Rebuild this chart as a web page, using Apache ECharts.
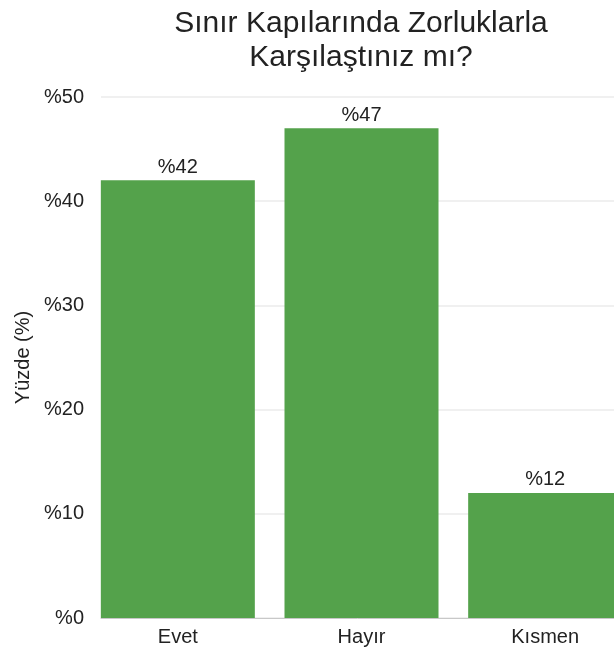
<!DOCTYPE html>
<html>
<head>
<meta charset="utf-8">
<script src="https://cdn.jsdelivr.net/npm/echarts@6/dist/echarts.min.js"></script>
<style>
  html, body { margin: 0; padding: 0; background: #fff; }
  #chart { width: 614px; height: 652px; }
</style>
</head>
<body>
<div id="chart"></div>
<script>
var categories = ['Evet', 'Hayır', 'Kısmen'];
var values = [42, 47, 12];
var yTicks = { min: 0, max: 50, interval: 10 };

var font = '"Liberation Sans", Arial, sans-serif';

var chart = echarts.init(document.getElementById('chart'));

chart.setOption({
    backgroundColor: '#ffffff',
    animation: false,
    title: {
        text: 'Sınır Kapılarında Zorluklarla\nKarşılaştınız mı?',
        left: 356,
        top: 2,
        textAlign: 'center',
        textStyle: {
            fontFamily: font,
            fontSize: 30,
            fontWeight: 'normal',
            color: '#222',
            lineHeight: 34
        }
    },
    grid: [
        // bars (last category runs past the right edge)
        { left: 86, width: 551, top: 97, bottom: 34, outerBoundsMode: 'none', containLabel: false },
        // gridlines and y labels
        { left: 101, right: 0, top: 97, bottom: 34, outerBoundsMode: 'none' }
    ],
    xAxis: [
        {
            type: 'category',
            gridIndex: 0,
            data: categories,
            axisLine: { show: false },
            axisTick: { show: false },
            axisLabel: { fontFamily: font, fontSize: 20, color: '#222', margin: 9 }
        },
        {
            type: 'category',
            gridIndex: 1,
            data: categories,
            axisLine: { show: true, lineStyle: { color: '#c8c8c8', width: 1 } },
            axisTick: { show: false },
            axisLabel: { show: false }
        }
    ],
    yAxis: [
        {
            type: 'value',
            gridIndex: 0,
            min: yTicks.min,
            max: yTicks.max,
            interval: yTicks.interval,
            show: false
        },
        {
            type: 'value',
            gridIndex: 1,
            min: yTicks.min,
            max: yTicks.max,
            interval: yTicks.interval,
            name: 'Yüzde (%)',
            nameLocation: 'middle',
            nameGap: 68,
            nameTextStyle: { fontFamily: font, fontSize: 20, color: '#222' },
            axisLine: { show: false },
            axisTick: { show: false },
            axisLabel: {
                fontFamily: font, fontSize: 20, color: '#222', margin: 17,
                formatter: function (v) { return '%' + v; }
            },
            splitLine: { lineStyle: { color: '#ebebeb', width: 1.5 } }
        }
    ],
    series: [
        {
            type: 'bar',
            xAxisIndex: 0,
            yAxisIndex: 0,
            data: values,
            barWidth: 154,
            itemStyle: { color: '#54a24b' },
            label: {
                show: true,
                position: 'top',
                distance: 3,
                fontFamily: font,
                fontSize: 20,
                color: '#222',
                formatter: function (p) { return '%' + p.value; }
            }
        }
    ]
});
</script>
</body>
</html>
